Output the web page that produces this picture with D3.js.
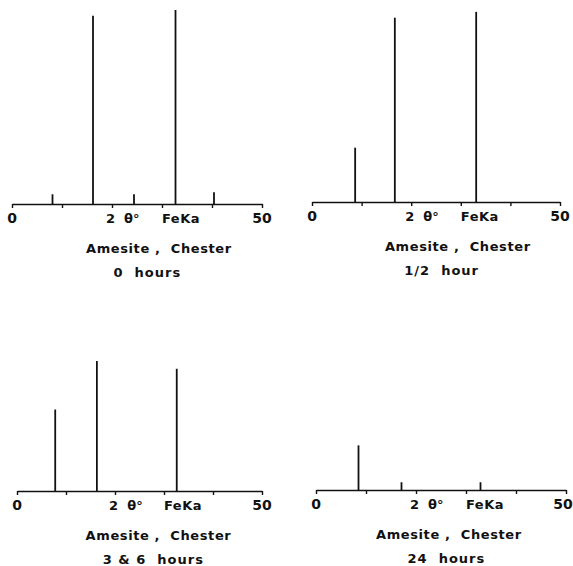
<!DOCTYPE html>
<html>
<head>
<meta charset="utf-8">
<script src="https://cdn.jsdelivr.net/npm/d3@7"></script>
<style>
  html, body { margin: 0; padding: 0; background: #fff; }
  svg { display: block; }
  text { font-family: "DejaVu Sans", sans-serif; font-weight: bold; fill: #111; white-space: pre; }
</style>
</head>
<body>
<div id="chart"></div>
<script>
// ---- Data (2θ degrees, Fe Kα; relative intensity) ----
const sampleName = "Amesite ,  Chester";
const panelTimes = ["0  hours", "1/2  hour", "3 & 6  hours", "24  hours"];

const peaks0h = [8.1, 16.2, 24.4, 32.7, 40.4];
const inten0h = [5, 97, 5, 100, 6];

const peaksHalf = [8.7, 16.7, 33.1];
const intenHalf = [28, 95, 98];

const peaks36h = [7.8, 16.3, 32.6];
const inten36h = [42, 67, 63];

const peaks24h = [8.5, 17.1, 32.9];
const inten24h = [23, 4, 4];

const axisTicks = [0, 10, 20, 30, 40, 50];
const endLabels = ["0", "50"];
const axisLabel1 = "2  θ°";
const axisLabel2 = "FeKa";

// ---- Layout ----
const W = 573, H = 566;
const layouts = [
  { x0: 12,  x1: 262, base: 204, t1: 14.8, t2: 20.3, end: 0 },
  { x0: 312, x1: 560, base: 202, t1: 14.7, t2: 18.6, end: 0 },
  { x0: 17,  x1: 262, base: 491, t1: 14.0, t2: 17.5, end: 0 },
  { x0: 316, x1: 566, base: 490, t1: 12.0, t2: 18.3, end: -3 }
];
const seriesPeaks = [peaks0h, peaksHalf, peaks36h, peaks24h];
const seriesInten = [inten0h, intenHalf, inten36h, inten24h];

const svg = d3.select("#chart").append("svg")
  .attr("width", W).attr("height", H);

layouts.forEach((L, i) => {
  const x = d3.scaleLinear().domain([0, 50]).range([L.x0, L.x1]);
  const y = d3.scaleLinear().domain([0, 100]).range([L.base, L.base - 194]);
  const g = svg.append("g");

  const axis = d3.axisBottom(x).tickValues(axisTicks).tickSize(4)
    .tickSizeOuter(0).tickFormat("");
  const ax = g.append("g").attr("transform", `translate(0,${L.base})`).call(axis);
  ax.select(".domain").attr("stroke", "#111").attr("stroke-width", 1.6);
  ax.selectAll(".tick line").attr("stroke", "#111").attr("stroke-width", 1.4);

  const data = seriesPeaks[i].map((p, k) => ({ p, v: seriesInten[i][k] }));
  g.selectAll("line.peak").data(data).enter().append("line")
    .attr("class", "peak")
    .attr("x1", d => x(d.p)).attr("x2", d => x(d.p))
    .attr("y1", y(0)).attr("y2", d => y(d.v))
    .attr("stroke", "#111").attr("stroke-width", 1.8);

  // axis labels
  g.append("text").attr("x", x(0)).attr("y", L.base + 19)
    .attr("text-anchor", "middle").style("font-size", "14px").text(endLabels[0]);
  g.append("text").attr("x", x(50) + L.end).attr("y", L.base + 19)
    .attr("text-anchor", "middle").style("font-size", "14px").text(endLabels[1]);
  g.append("text").attr("x", x(18.8)).attr("y", L.base + 19)
    .style("font-size", "13px").text(axisLabel1);
  g.append("text").attr("x", x(30)).attr("y", L.base + 19)
    .style("font-size", "13px").style("letter-spacing", "0.5px").text(axisLabel2);

  // captions
  g.append("text").attr("x", x(L.t1)).attr("y", L.base + 49)
    .style("font-size", "13px").style("letter-spacing", "0.6px").text(sampleName);
  g.append("text").attr("x", x(L.t2)).attr("y", L.base + 73)
    .style("font-size", "13px").style("letter-spacing", "1px").text(panelTimes[i]);
});
</script>
</body>
</html>
